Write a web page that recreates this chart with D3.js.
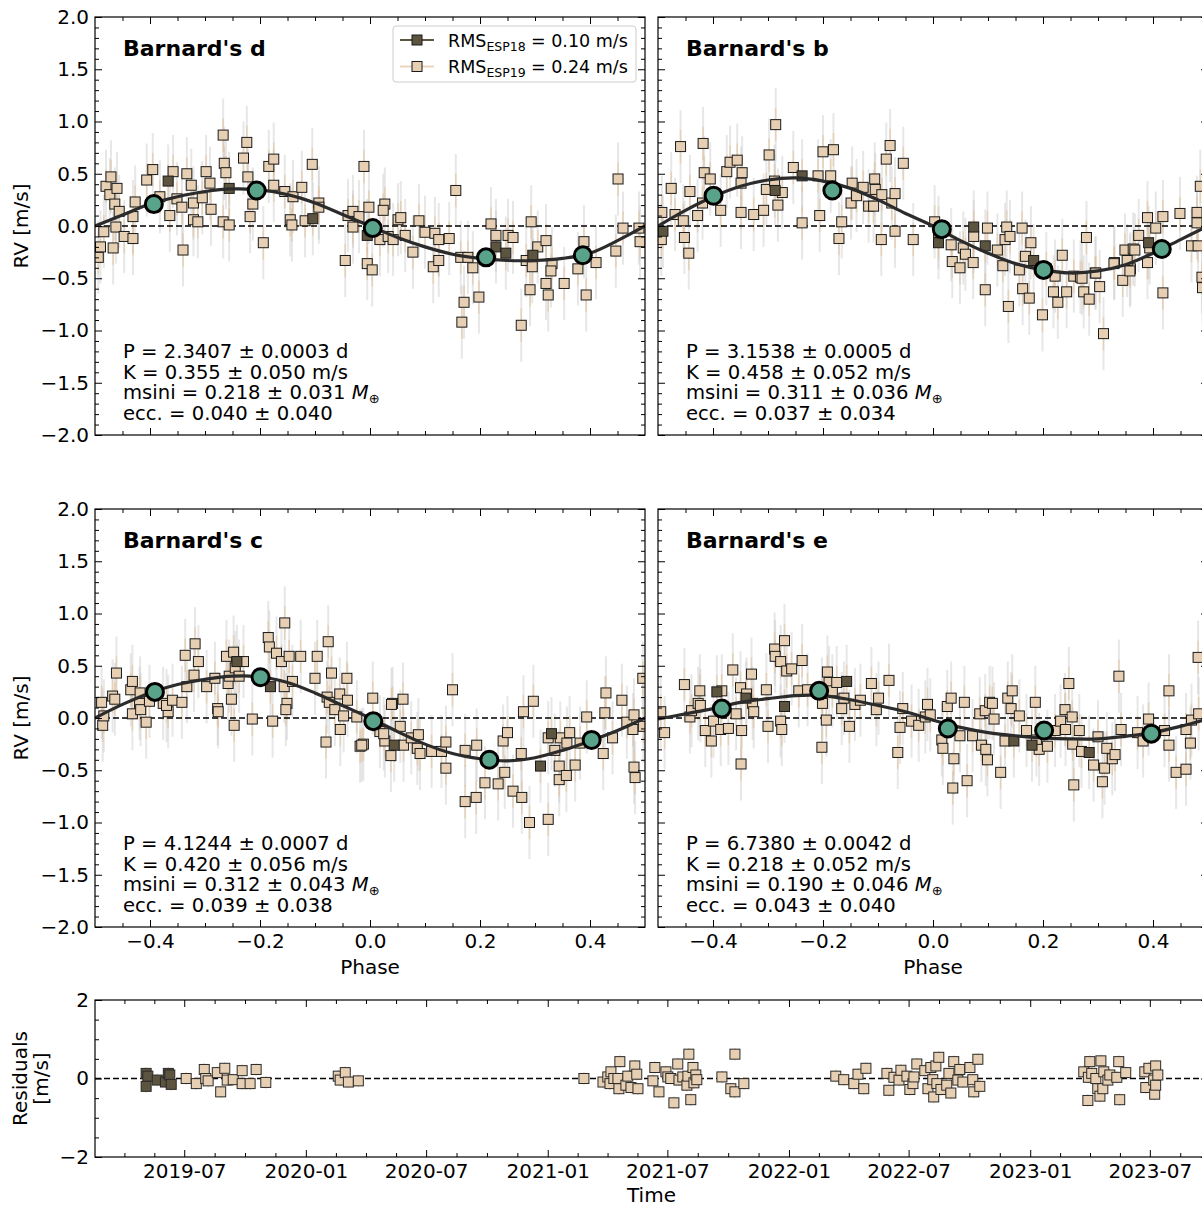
<!DOCTYPE html>
<html><head><meta charset="utf-8">
<script src="https://cdn.jsdelivr.net/npm/d3@7"></script>
<style>body{margin:0;background:#fff} svg text{font-family:"DejaVu Sans",sans-serif;fill:#000}</style>
</head><body><svg id="c" width="1202" height="1207"></svg>
<script>
// ---------------- DATA ----------------
const planetTitles = ["Barnard's d", "Barnard's b", "Barnard's c", "Barnard's e"];
const infoD = ["P = 2.3407 ± 0.0003 d", "K = 0.355 ± 0.050 m/s", "msini = 0.218 ± 0.031 ", "ecc. = 0.040 ± 0.040"];
const infoB = ["P = 3.1538 ± 0.0005 d", "K = 0.458 ± 0.052 m/s", "msini = 0.311 ± 0.036 ", "ecc. = 0.037 ± 0.034"];
const infoC = ["P = 4.1244 ± 0.0007 d", "K = 0.420 ± 0.056 m/s", "msini = 0.312 ± 0.043 ", "ecc. = 0.039 ± 0.038"];
const infoE = ["P = 6.7380 ± 0.0042 d", "K = 0.218 ± 0.052 m/s", "msini = 0.190 ± 0.046 ", "ecc. = 0.043 ± 0.040"];
const legendLabels = [["ESP18", "= 0.10 m/s"], ["ESP19", "= 0.24 m/s"]];

const phaseTicks = [-0.4, -0.2, 0.0, 0.2, 0.4];
const phaseMinorTicks = [-0.45, -0.35, -0.3, -0.25, -0.15, -0.1, -0.05, 0.05, 0.1, 0.15, 0.25, 0.3, 0.35, 0.45];
const rvTicks = [-2.0, -1.5, -1.0, -0.5, 0.0, 0.5, 1.0, 1.5, 2.0];
const residTicks = [-2, 0, 2];
const residMinorTicks = [-1.5, -1, -0.5, 0.5, 1, 1.5];
const dateTickLabels = ["2019-07", "2020-01", "2020-07", "2021-01", "2021-07", "2022-01", "2022-07", "2023-01", "2023-07"];

// model curves sampled every 0.05 in phase
const modelPhase = [-0.5,-0.45,-0.4,-0.35,-0.3,-0.25,-0.2,-0.15,-0.1,-0.05,0,0.05,0.1,0.15,0.2,0.25,0.3,0.35,0.4,0.45,0.5];
const modelD = [0.00,0.105,0.21,0.28,0.33,0.355,0.345,0.30,0.22,0.11,0.00,-0.11,-0.20,-0.27,-0.31,-0.33,-0.33,-0.31,-0.26,-0.14,0.00];
const modelB = [0.00,0.15,0.28,0.38,0.44,0.46,0.43,0.36,0.25,0.12,0.00,-0.14,-0.26,-0.36,-0.42,-0.45,-0.43,-0.37,-0.26,-0.13,0.00];
const modelC = [0.00,0.13,0.24,0.32,0.37,0.40,0.395,0.34,0.24,0.12,0.00,-0.13,-0.25,-0.34,-0.39,-0.41,-0.38,-0.31,-0.22,-0.12,0.00];
const modelE = [-0.01,0.04,0.09,0.15,0.185,0.215,0.215,0.175,0.12,0.06,-0.02,-0.09,-0.14,-0.17,-0.19,-0.20,-0.20,-0.175,-0.14,-0.08,-0.01];

// [phase, rv]
const dEsp19 = [[-0.494,-0.30],[-0.49,-0.20],[-0.484,-0.055],[-0.48,0.38],[-0.471,0.47],[-0.473,0.30],[-0.46,0.36],[-0.464,0.21],[-0.456,0.14],[-0.462,-0.01],[-0.467,-0.21],[-0.447,-0.10],[-0.431,-0.12],[-0.431,0.09],[-0.427,0.23],[-0.406,0.44],[-0.395,0.54],[-0.382,0.28],[-0.358,0.52],[-0.364,0.10],[-0.351,0.26],[-0.342,0.18],[-0.34,-0.23],[-0.333,0.50],[-0.325,0.39],[-0.321,0.22],[-0.321,0.06],[-0.313,0.04],[-0.305,0.27],[-0.298,0.52],[-0.291,0.41],[-0.289,0.16],[-0.267,0.87],[-0.265,0.60],[-0.262,0.51],[-0.267,0.04],[-0.256,0.01],[-0.23,0.65],[-0.224,0.80],[-0.222,0.47],[-0.218,0.09],[-0.213,0.21],[-0.194,-0.16],[-0.184,0.57],[-0.175,0.64],[-0.175,0.39],[-0.155,0.33],[-0.145,0.06],[-0.142,0.01],[-0.14,0.28],[-0.124,0.37],[-0.118,0.05],[-0.105,0.59],[-0.093,0.22],[-0.093,0.18],[-0.045,-0.33],[-0.04,0.10],[-0.031,0.14],[-0.031,-0.01],[-0.02,0.09],[-0.011,0.57],[-0.005,-0.36],[0.004,-0.42],[-0.002,0.18],[0.018,-0.13],[0.027,0.21],[0.024,0.15],[0.033,-0.10],[0.042,-0.13],[0.051,0.06],[0.056,0.08],[0.064,-0.09],[0.078,-0.25],[0.089,0.05],[0.10,-0.06],[0.118,-0.07],[0.125,-0.13],[0.115,-0.39],[0.125,-0.33],[0.144,-0.12],[0.156,0.34],[0.165,-0.30],[0.178,-0.30],[0.187,-0.40],[0.171,-0.73],[0.198,-0.68],[0.167,-0.92],[0.22,0.02],[0.229,-0.09],[0.251,-0.09],[0.26,-0.11],[0.293,0.04],[0.284,-0.33],[0.295,-0.39],[0.275,-0.95],[0.291,-0.61],[0.305,-0.20],[0.32,-0.14],[0.331,-0.36],[0.329,-0.43],[0.32,-0.55],[0.324,-0.66],[0.353,-0.55],[0.378,-0.41],[0.389,-0.15],[0.393,-0.66],[0.411,-0.35],[0.447,-0.24],[0.451,0.45],[0.46,-0.02],[0.489,-0.02],[0.491,-0.15]];
const dEsp18 = [[-0.367,0.43],[-0.256,0.36],[-0.104,0.07],[-0.005,-0.09],[0.229,-0.20],[0.247,-0.26],[0.296,-0.28]];
const dBinned = [[-0.393,0.21],[-0.206,0.34],[0.005,-0.02],[0.211,-0.30],[0.387,-0.28]];

const bEsp19 = [[-0.493,0.13],[-0.494,-0.13],[-0.476,0.36],[-0.469,0.11],[-0.454,0.05],[-0.452,-0.11],[-0.444,-0.26],[-0.459,0.76],[-0.442,0.33],[-0.428,0.10],[-0.418,0.79],[-0.416,0.51],[-0.419,0.22],[-0.405,0.45],[-0.386,0.15],[-0.375,0.52],[-0.369,0.61],[-0.356,0.63],[-0.347,0.51],[-0.349,0.41],[-0.349,0.13],[-0.326,0.11],[-0.308,0.15],[-0.303,0.35],[-0.298,0.68],[-0.288,0.43],[-0.282,0.20],[-0.274,0.32],[-0.286,0.97],[-0.254,0.56],[-0.238,0.03],[-0.209,0.48],[-0.206,0.10],[-0.20,0.71],[-0.181,0.73],[-0.186,0.48],[-0.171,-0.12],[-0.166,0.04],[-0.149,0.22],[-0.147,0.41],[-0.139,0.29],[-0.127,0.37],[-0.117,0.19],[-0.108,0.19],[-0.106,0.45],[-0.105,0.35],[-0.093,0.30],[-0.085,0.64],[-0.078,0.77],[-0.075,0.22],[-0.069,0.31],[-0.069,-0.05],[-0.054,0.60],[-0.036,-0.13],[-0.094,-0.13],[0.003,0.04],[0.01,-0.06],[0.033,-0.18],[0.035,-0.34],[0.049,-0.40],[0.055,-0.21],[0.059,-0.27],[0.073,-0.35],[0.074,-0.10],[0.095,-0.61],[0.099,-0.02],[0.117,-0.23],[0.127,-0.38],[0.131,-0.13],[0.134,-0.01],[0.14,-0.10],[0.137,-0.77],[0.157,-0.42],[0.162,-0.02],[0.163,-0.60],[0.168,-0.29],[0.175,-0.69],[0.178,-0.16],[0.199,-0.85],[0.206,-0.41],[0.219,-0.63],[0.222,-0.48],[0.227,-0.73],[0.235,-0.28],[0.243,-0.63],[0.256,-0.48],[0.268,-0.49],[0.274,-0.63],[0.279,-0.11],[0.284,-0.70],[0.295,-0.45],[0.303,-0.58],[0.31,-1.03],[0.33,-0.35],[0.345,-0.52],[0.349,-0.23],[0.359,-0.41],[0.364,-0.22],[0.374,-0.09],[0.39,0.08],[0.39,-0.35],[0.405,-0.02],[0.418,0.09],[0.418,-0.64],[0.449,0.12],[0.47,-0.19],[0.48,0.13],[0.482,-0.19],[0.486,0.38],[0.48,0.03],[0.394,-0.21],[0.367,-0.23],[0.329,-0.36],[0.353,-0.33],[0.358,-0.43],[0.296,-0.45],[0.271,-0.50],[0.489,-0.49],[0.49,-0.59]];
const bEsp18 = [[-0.491,-0.05],[-0.287,0.34],[-0.238,0.48],[0.01,-0.16],[0.074,-0.01],[0.095,-0.19],[0.183,-0.33],[0.392,-0.16]];
const bBinned = [[-0.399,0.29],[-0.183,0.34],[0.016,-0.03],[0.201,-0.42],[0.416,-0.22]];

const cEsp19 = [[-0.488,0.15],[-0.486,-0.07],[-0.484,0.02],[-0.468,0.21],[-0.464,0.18],[-0.461,0.43],[-0.435,0.27],[-0.432,0.35],[-0.432,0.04],[-0.419,0.14],[-0.418,0.24],[-0.417,0.08],[-0.407,-0.04],[-0.401,0.16],[-0.376,0.14],[-0.367,0.06],[-0.37,0.12],[-0.359,0.17],[-0.342,0.15],[-0.336,0.60],[-0.333,0.30],[-0.32,0.41],[-0.318,0.71],[-0.312,0.54],[-0.297,0.30],[-0.282,0.38],[-0.277,0.09],[-0.276,0.06],[-0.261,0.59],[-0.258,0.33],[-0.256,0.40],[-0.252,0.18],[-0.248,0.63],[-0.245,0.48],[-0.238,0.40],[-0.23,0.54],[-0.247,-0.07],[-0.214,-0.01],[-0.185,0.77],[-0.183,0.68],[-0.177,-0.03],[-0.17,0.62],[-0.161,0.54],[-0.155,0.91],[-0.156,0.30],[-0.151,0.14],[-0.153,0.08],[-0.147,0.59],[-0.141,0.35],[-0.126,0.59],[-0.10,0.38],[-0.096,0.59],[-0.08,-0.23],[-0.076,0.73],[-0.078,0.20],[-0.074,0.15],[-0.07,0.43],[-0.064,0.08],[-0.055,0.23],[-0.054,-0.11],[-0.048,0.02],[-0.042,0.38],[-0.041,0.17],[-0.024,0.01],[-0.018,-0.27],[-0.012,-0.25],[0.005,0.19],[0.018,-0.13],[0.027,-0.22],[0.038,-0.36],[0.041,0.14],[-0.015,-0.26],[0.025,-0.15],[0.039,0.13],[0.055,-0.08],[0.06,0.18],[0.061,-0.26],[0.075,-0.19],[0.086,-0.29],[0.088,-0.16],[0.091,-0.34],[0.112,-0.32],[0.13,-0.32],[0.138,-0.23],[0.138,-0.48],[0.15,0.27],[0.173,-0.31],[0.173,-0.80],[0.194,-0.26],[0.193,-0.76],[0.209,-0.62],[0.233,-0.63],[0.245,-0.52],[0.242,-0.22],[0.25,-0.14],[0.26,-0.70],[0.275,-0.34],[0.276,-0.76],[0.279,0.06],[0.29,-1.00],[0.297,0.16],[0.324,-0.97],[0.324,-0.19],[0.336,-0.31],[0.344,-0.46],[0.344,-0.59],[0.346,-0.19],[0.357,-0.55],[0.358,-0.24],[0.363,-0.14],[0.373,-0.45],[0.382,-0.24],[0.394,0.01],[0.424,-0.34],[0.429,0.24],[0.427,0.05],[0.441,-0.19],[0.458,0.17],[0.467,-0.04],[0.478,-0.11],[0.48,0.03],[0.48,-0.47],[0.482,-0.57],[0.496,0.38],[0.497,-0.08]];
const cEsp18 = [[-0.242,0.54],[-0.181,0.30],[0.044,-0.26],[0.31,-0.46],[0.33,-0.15]];
const cBinned = [[-0.391,0.25],[-0.199,0.39],[0.006,-0.03],[0.217,-0.40],[0.403,-0.21]];

const eEsp19 = [[-0.495,0.06],[-0.488,-0.14],[-0.452,0.32],[-0.442,0.01],[-0.439,0.07],[-0.427,0.14],[-0.424,0.26],[-0.423,0.12],[-0.414,-0.12],[-0.403,-0.22],[-0.399,-0.03],[-0.386,-0.11],[-0.384,0.26],[-0.372,-0.10],[-0.364,0.46],[-0.358,0.04],[-0.35,0.29],[-0.348,-0.12],[-0.349,-0.44],[-0.339,0.23],[-0.33,0.42],[-0.328,0.14],[-0.326,0.06],[-0.303,0.27],[-0.30,-0.08],[-0.288,0.66],[-0.287,0.59],[-0.277,0.54],[-0.277,-0.03],[-0.275,-0.11],[-0.27,0.74],[-0.266,0.45],[-0.257,0.47],[-0.244,0.26],[-0.238,0.55],[-0.228,0.27],[-0.202,0.23],[-0.201,0.14],[-0.202,-0.28],[-0.194,-0.02],[-0.192,0.44],[-0.189,0.34],[-0.183,0.26],[-0.175,0.34],[-0.166,0.09],[-0.162,0.19],[-0.152,-0.08],[-0.142,0.13],[-0.132,0.17],[-0.112,0.33],[-0.103,0.08],[-0.099,0.19],[-0.08,0.36],[-0.064,-0.33],[-0.06,-0.09],[-0.055,0.09],[-0.039,-0.03],[-0.026,-0.07],[-0.014,0.01],[-0.01,0.13],[-0.005,0.03],[0.016,-0.21],[0.018,-0.29],[0.026,0.11],[0.033,0.19],[0.036,-0.67],[0.038,-0.39],[0.049,-0.17],[0.057,0.15],[0.062,-0.60],[0.072,-0.17],[0.085,0.04],[0.088,-0.26],[0.095,0.07],[0.096,-0.30],[0.099,-0.40],[0.103,0.15],[0.108,0.14],[0.111,-0.01],[0.123,-0.52],[0.131,-0.22],[0.136,0.19],[0.144,0.26],[0.142,0.09],[0.157,0.02],[0.17,-0.12],[0.186,0.15],[0.188,-0.21],[0.193,-0.30],[0.208,-0.27],[0.222,-0.12],[0.232,-0.03],[0.24,0.08],[0.241,-0.11],[0.247,0.33],[0.253,0.01],[0.254,-0.25],[0.256,-0.64],[0.266,-0.12],[0.27,-0.32],[0.292,-0.45],[0.30,-0.18],[0.308,-0.61],[0.312,-0.48],[0.316,-0.29],[0.326,-0.39],[0.331,-0.35],[0.338,0.40],[0.342,-0.11],[0.372,-0.14],[0.382,-0.22],[0.392,-0.01],[0.421,-0.12],[0.429,0.26],[0.429,-0.26],[0.442,-0.52],[0.46,-0.49],[0.46,-0.11],[0.468,-0.24],[0.47,-0.02],[0.482,0.58],[0.483,0.04]];
const eEsp18 = [[-0.393,0.25],[-0.34,0.19],[-0.27,0.11],[-0.157,0.35],[0.147,-0.22],[0.18,-0.26],[0.284,-0.33]];
const eBinned = [[-0.384,0.09],[-0.207,0.26],[0.027,-0.10],[0.202,-0.12],[0.397,-0.15]];

// residuals: [decimal year, residual m/s]
const residEsp18 = [[2019.338,0.13],[2019.338,-0.20],[2019.345,0.06],[2019.384,-0.04],[2019.418,-0.09],[2019.430,0.13],[2019.436,0.09],[2019.442,-0.15]];
const residEsp19 = [[2019.504,0.0],[2019.546,-0.13],[2019.579,0.23],[2019.585,0.0],[2019.595,-0.06],[2019.633,0.15],[2019.647,-0.34],[2019.664,0.26],[2019.674,-0.04],[2019.699,-0.03],[2019.736,0.20],[2019.736,-0.13],[2019.769,-0.13],[2019.794,0.23],[2019.834,-0.10],
[2020.134,0.06],[2020.142,-0.04],[2020.163,0.15],[2020.176,-0.09],[2020.217,-0.06],
[2021.150,0.0],[2021.229,-0.09],[2021.249,0.04],[2021.258,-0.13],[2021.262,0.17],[2021.274,0.0],[2021.291,0.0],[2021.295,-0.26],[2021.299,0.43],[2021.324,-0.17],[2021.332,0.06],[2021.345,-0.23],[2021.361,0.32],[2021.369,0.11],[2021.374,-0.26],[2021.436,-0.06],[2021.444,0.28],[2021.461,-0.34],[2021.490,0.17],[2021.498,0.04],[2021.510,0.0],[2021.523,-0.62],[2021.539,0.37],[2021.544,-0.04],[2021.560,0.04],[2021.577,-0.17],[2021.581,0.06],[2021.585,0.62],[2021.593,-0.54],[2021.602,0.28],[2021.606,-0.11],[2021.614,0.09],[2021.618,-0.03],[2021.722,0.04],[2021.759,-0.26],[2021.776,0.62],[2021.776,-0.34],[2021.813,-0.13],
[2022.194,0.06],[2022.227,-0.03],[2022.269,-0.13],[2022.286,0.11],[2022.310,-0.26],[2022.319,0.26],[2022.406,0.13],[2022.414,-0.30],[2022.435,0.03],[2022.456,-0.04],[2022.464,0.21],[2022.489,0.06],[2022.501,-0.28],[2022.514,-0.13],[2022.518,0.04],[2022.530,0.37],[2022.563,0.20],[2022.576,-0.26],[2022.588,0.28],[2022.596,-0.03],[2022.600,-0.47],[2022.609,0.32],[2022.613,-0.13],[2022.621,0.54],[2022.630,-0.28],[2022.654,-0.17],[2022.663,0.13],[2022.671,-0.37],[2022.683,0.43],[2022.700,-0.04],[2022.708,0.23],[2022.721,-0.09],[2022.750,0.28],[2022.762,-0.03],[2022.766,-0.34],[2022.783,0.49],[2022.791,-0.20],
[2023.222,0.17],[2023.239,-0.56],[2023.241,0.03],[2023.247,0.43],[2023.255,0.13],[2023.272,0.0],[2023.280,-0.26],[2023.289,-0.45],[2023.293,0.45],[2023.301,-0.26],[2023.305,0.17],[2023.322,-0.04],[2023.330,0.09],[2023.359,0.03],[2023.367,0.43],[2023.371,-0.54],[2023.396,0.15],[2023.475,0.17],[2023.479,-0.23],[2023.492,0.26],[2023.512,-0.04],[2023.516,-0.40],[2023.520,0.32],[2023.520,-0.17],[2023.529,0.09]];

// typical error bar half-lengths (m/s)
const errJitter = 0.35, errInstr = 0.16, errResid = 0.16;

// ---------------- STYLE ----------------
const COL19 = "#e6cfb2", COL18 = "#5d5440", EDGE = "#1a1a1a", BIN = "#5aa38b";
const FS = 20;
const PW = 550, PH = 418, SQ = 10;

const svg = d3.select("#c");
svg.append("rect").attr("width",1202).attr("height",1207).attr("fill","#fff");

function yearToDate(t){ const y=Math.floor(t); const a=Date.UTC(y,0,1), b=Date.UTC(y+1,0,1); return new Date(a+(t-y)*(b-a)); }

const panels = [
  {title:planetTitles[0], info:infoD, e19:dEsp19, e18:dEsp18, bin:dBinned, model:modelD, x0:95, y0:17, ylab:true, xlab:false, legend:true},
  {title:planetTitles[1], info:infoB, e19:bEsp19, e18:bEsp18, bin:bBinned, model:modelB, x0:658, y0:17, ylab:false, xlab:false},
  {title:planetTitles[2], info:infoC, e19:cEsp19, e18:cEsp18, bin:cBinned, model:modelC, x0:95, y0:509, ylab:true, xlab:true},
  {title:planetTitles[3], info:infoE, e19:eEsp19, e18:eEsp18, bin:eBinned, model:modelE, x0:658, y0:509, ylab:false, xlab:true}
];

function styleAxis(g){ g.select(".domain").remove(); g.selectAll(".tick line").attr("stroke","#000").attr("stroke-width",1); g.selectAll(".tick text").attr("font-size",FS).attr("font-family","DejaVu Sans").attr("fill","#000"); }

function drawSquares(g, data, xs, ys, fill){
  g.selectAll(null).data(data).enter().append("rect")
    .attr("x", d=>xs(d[0])-SQ/2).attr("y", d=>ys(d[1])-SQ/2)
    .attr("width",SQ).attr("height",SQ)
    .attr("fill",fill).attr("stroke",EDGE).attr("stroke-width",1);
}

panels.forEach((p,i)=>{
  const x = d3.scaleLinear().domain([-0.5,0.5]).range([p.x0,p.x0+PW]);
  const y = d3.scaleLinear().domain([-2,2]).range([p.y0+PH,p.y0]);
  const cid = "clip"+i;
  svg.append("clipPath").attr("id",cid).append("rect").attr("x",p.x0).attr("y",p.y0).attr("width",PW).attr("height",PH);
  const g = svg.append("g").attr("clip-path",`url(#${cid})`);
  const all = p.e19.concat(p.e18);
  // error bars
  g.selectAll(null).data(all).enter().append("line")
    .attr("x1",d=>x(d[0])).attr("x2",d=>x(d[0]))
    .attr("y1",d=>y(d[1]-errJitter)).attr("y2",d=>y(d[1]+errJitter))
    .attr("stroke","#c9c9c9").attr("stroke-opacity",0.45).attr("stroke-width",2);
  g.selectAll(null).data(all).enter().append("line")
    .attr("x1",d=>x(d[0])).attr("x2",d=>x(d[0]))
    .attr("y1",d=>y(d[1]-errInstr)).attr("y2",d=>y(d[1]+errInstr))
    .attr("stroke","#e3b98a").attr("stroke-opacity",0.5).attr("stroke-width",1.5);
  // zero line
  g.append("line").attr("x1",p.x0).attr("x2",p.x0+PW).attr("y1",y(0)).attr("y2",y(0))
    .attr("stroke","#000").attr("stroke-width",1.6).attr("stroke-dasharray","6,3");
  drawSquares(g, p.e19, x, y, COL19);
  drawSquares(g, p.e18, x, y, COL18);
  // model
  const line = d3.line().x((d,k)=>x(modelPhase[k])).y(d=>y(d)).curve(d3.curveCatmullRom);
  g.append("path").attr("d", line(p.model)).attr("fill","none").attr("stroke","#2b2b2b").attr("stroke-width",3.2);
  // binned
  g.selectAll(null).data(p.bin).enter().append("circle")
    .attr("cx",d=>x(d[0])).attr("cy",d=>y(d[1])).attr("r",8.5)
    .attr("fill",BIN).attr("stroke","#000").attr("stroke-width",3);
  // frame
  svg.append("rect").attr("x",p.x0).attr("y",p.y0).attr("width",PW).attr("height",PH)
    .attr("fill","none").attr("stroke","#000").attr("stroke-width",1.2);
  // axes
  const fmt = d3.format(".1f");
  svg.append("g").attr("transform",`translate(0,${p.y0+PH})`)
    .call(d3.axisBottom(x).tickValues(phaseTicks).tickSize(-7).tickPadding(7).tickFormat(p.xlab?fmt:()=>"")).call(styleAxis);
  svg.append("g").attr("transform",`translate(0,${p.y0+PH})`)
    .call(d3.axisBottom(x).tickValues(phaseMinorTicks).tickSize(-4).tickFormat(()=>"")).call(styleAxis);
  svg.append("g").attr("transform",`translate(0,${p.y0})`)
    .call(d3.axisTop(x).tickValues(phaseTicks).tickSize(-7).tickFormat(()=>"")).call(styleAxis);
  svg.append("g").attr("transform",`translate(0,${p.y0})`)
    .call(d3.axisTop(x).tickValues(phaseMinorTicks).tickSize(-4).tickFormat(()=>"")).call(styleAxis);
  const rvMinor = d3.range(-19,20).filter(v=>v%5!==0).map(v=>v/10);
  svg.append("g").attr("transform",`translate(${p.x0},0)`)
    .call(d3.axisLeft(y).tickValues(rvTicks).tickSize(-7).tickPadding(6).tickFormat(p.ylab?fmt:()=>"")).call(styleAxis);
  svg.append("g").attr("transform",`translate(${p.x0},0)`)
    .call(d3.axisLeft(y).tickValues(rvMinor).tickSize(-4).tickFormat(()=>"")).call(styleAxis);
  svg.append("g").attr("transform",`translate(${p.x0+PW},0)`)
    .call(d3.axisRight(y).tickValues(rvTicks).tickSize(-7).tickFormat(()=>"")).call(styleAxis);
  svg.append("g").attr("transform",`translate(${p.x0+PW},0)`)
    .call(d3.axisRight(y).tickValues(rvMinor).tickSize(-4).tickFormat(()=>"")).call(styleAxis);
  // title
  svg.append("text").attr("x",p.x0+28).attr("y",p.y0+39).attr("font-size",22).attr("font-weight","bold").text(p.title);
  // info
  p.info.forEach((s,k)=>{
    const t = svg.append("text").attr("x",p.x0+28).attr("y",p.y0+341+k*20.7).attr("font-size",19.6).attr("xml:space","preserve");
    t.append("tspan").text(s);
    if(k===2){
      t.append("tspan").attr("font-style","italic").text("M");
      t.append("tspan").attr("font-size",13).attr("dy",4).text("⊕");
    }
  });
  if(p.ylab){
    svg.append("text").attr("transform",`translate(28,${y(0)}) rotate(-90)`).attr("text-anchor","middle").attr("font-size",FS).text("RV [m/s]");
  }
  if(p.xlab){
    svg.append("text").attr("x",x(0)).attr("y",p.y0+PH+47).attr("text-anchor","middle").attr("font-size",FS).text("Phase");
  }
  if(p.legend){
    const lg = svg.append("g");
    lg.append("rect").attr("x",393).attr("y",26).attr("width",243).attr("height",56).attr("rx",3)
      .attr("fill","#fff").attr("fill-opacity",0.8).attr("stroke","#cccccc").attr("stroke-width",1);
    const rows = [{c:COL18,lc:COL18,lab:legendLabels[0],yy:40},{c:COL19,lc:"#ecd6bf",lab:legendLabels[1],yy:66.5}];
    rows.forEach(r=>{
      lg.append("line").attr("x1",400).attr("x2",434).attr("y1",r.yy).attr("y2",r.yy).attr("stroke",r.lc).attr("stroke-width",2);
      lg.append("rect").attr("x",417-SQ/2).attr("y",r.yy-SQ/2).attr("width",SQ).attr("height",SQ).attr("fill",r.c).attr("stroke",EDGE).attr("stroke-width",1);
      const t = lg.append("text").attr("x",448).attr("y",r.yy+6.5).attr("font-size",17.5);
      t.append("tspan").text("RMS");
      t.append("tspan").attr("font-size",12.5).attr("dy",4).text(r.lab[0]);
      lg.append("text").attr("x",531).attr("y",r.yy+6.5).attr("font-size",17.5).text(r.lab[1]);
    });
  }
});

// ---------------- RESIDUALS ----------------
const rx0 = 95, ry0 = 1000, RW = 1113, RH = 157;
const xt = d3.scaleUtc().domain([new Date(Date.UTC(2019,1,16)), new Date(Date.UTC(2023,8,27))]).range([rx0, rx0+RW]);
const yr = d3.scaleLinear().domain([-2,2]).range([ry0+RH, ry0]);
svg.append("clipPath").attr("id","clipR").append("rect").attr("x",rx0).attr("y",ry0).attr("width",RW).attr("height",RH);
const gr = svg.append("g").attr("clip-path","url(#clipR)");
const rAll = residEsp19.concat(residEsp18);
const dateX = v=>xt(yearToDate(v));
gr.selectAll(null).data(rAll).enter().append("line")
  .attr("x1",d=>dateX(d[0])).attr("x2",d=>dateX(d[0]))
  .attr("y1",d=>yr(d[1]-errResid)).attr("y2",d=>yr(d[1]+errResid))
  .attr("stroke","#e3b98a").attr("stroke-opacity",0.6).attr("stroke-width",1.5);
gr.append("line").attr("x1",rx0).attr("x2",rx0+RW).attr("y1",yr(0)).attr("y2",yr(0))
  .attr("stroke","#000").attr("stroke-width",1.6).attr("stroke-dasharray","6,3");
function drawResid(data, fill){
  gr.selectAll(null).data(data).enter().append("rect")
    .attr("x",d=>dateX(d[0])-SQ/2).attr("y",d=>yr(d[1])-SQ/2).attr("width",SQ).attr("height",SQ)
    .attr("fill",fill).attr("stroke","#2a2a2a").attr("stroke-width",1);
}
drawResid(residEsp19, COL19);
drawResid(residEsp18, COL18);
svg.append("rect").attr("x",rx0).attr("y",ry0).attr("width",RW).attr("height",RH).attr("fill","none").attr("stroke","#000").attr("stroke-width",1.2);

const majorDates = dateTickLabels.map(s=>{const [a,b]=s.split("-").map(Number); return new Date(Date.UTC(a,b-1,1));});
const ext = [new Date(Date.UTC(2019,0,1))].concat(majorDates,[new Date(Date.UTC(2024,0,1))]);
const minorDates = [];
for(let k=0;k<ext.length-1;k++){ const a=+ext[k], b=+ext[k+1]; for(let j=1;j<4;j++) minorDates.push(new Date(a+(b-a)*j/4)); }
const minorIn = minorDates.filter(d=>d>=xt.domain()[0] && d<=xt.domain()[1]);
const dateFmt = d3.utcFormat("%Y-%m");
svg.append("g").attr("transform",`translate(0,${ry0+RH})`)
  .call(d3.axisBottom(xt).tickValues(majorDates).tickSize(-7).tickPadding(7).tickFormat(dateFmt)).call(styleAxis);
svg.append("g").attr("transform",`translate(0,${ry0+RH})`)
  .call(d3.axisBottom(xt).tickValues(minorIn).tickSize(-4).tickFormat(()=>"")).call(styleAxis);
svg.append("g").attr("transform",`translate(0,${ry0})`)
  .call(d3.axisTop(xt).tickValues(majorDates).tickSize(-7).tickFormat(()=>"")).call(styleAxis);
svg.append("g").attr("transform",`translate(0,${ry0})`)
  .call(d3.axisTop(xt).tickValues(minorIn).tickSize(-4).tickFormat(()=>"")).call(styleAxis);
svg.append("g").attr("transform",`translate(${rx0},0)`)
  .call(d3.axisLeft(yr).tickValues(residTicks).tickSize(-7).tickPadding(6).tickFormat(d3.format("d"))).call(styleAxis);
svg.append("g").attr("transform",`translate(${rx0},0)`)
  .call(d3.axisLeft(yr).tickValues(residMinorTicks).tickSize(-4).tickFormat(()=>"")).call(styleAxis);
svg.append("g").attr("transform",`translate(${rx0+RW},0)`)
  .call(d3.axisRight(yr).tickValues(residTicks).tickSize(-7).tickFormat(()=>"")).call(styleAxis);
svg.append("g").attr("transform",`translate(${rx0+RW},0)`)
  .call(d3.axisRight(yr).tickValues(residMinorTicks).tickSize(-4).tickFormat(()=>"")).call(styleAxis);
svg.append("text").attr("x",rx0+RW/2).attr("y",1202).attr("text-anchor","middle").attr("font-size",FS).text("Time");
svg.append("text").attr("transform",`translate(27,${yr(0)}) rotate(-90)`).attr("text-anchor","middle").attr("font-size",FS).text("Residuals");
svg.append("text").attr("transform",`translate(48,${yr(0)}) rotate(-90)`).attr("text-anchor","middle").attr("font-size",FS).text("[m/s]");
</script></body></html>
